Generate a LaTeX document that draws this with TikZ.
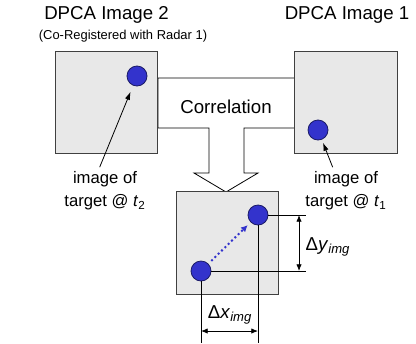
\documentclass[tikz,border=0pt]{standalone}
\usepackage{fontspec}
\setmainfont{Liberation Sans}
\usetikzlibrary{arrows.meta}

\definecolor{boxgray}{HTML}{E8E8E8}
\definecolor{boxline}{HTML}{404040}
\definecolor{dotblue}{HTML}{3333CC}
\definecolor{dotline}{HTML}{1A1A66}

\tikzset{
  imgbox/.style={draw=boxline,fill=boxgray,line width=0.6pt,minimum width=77pt,minimum height=77pt,inner sep=0pt},
  tgt/.style={circle,draw=dotline,fill=dotblue,line width=0.6pt,minimum size=15pt,inner sep=0pt},
  title/.style={font=\fontsize{14}{16}\selectfont},
  note/.style={font=\fontsize{12.5}{17}\selectfont,align=center},
  dimtext/.style={font=\fontsize{14}{16}\selectfont},
  dim/.style={line width=0.6pt},
  dimarrow/.style={line width=0.6pt,{Latex[length=5pt,width=4pt]}-{Latex[length=5pt,width=4pt]}},
  pointer/.style={line width=0.6pt,-{Latex[length=6pt,width=4pt]}},
}

\begin{document}
\begin{tikzpicture}[x=0.75pt,y=-0.75pt]
  \useasboundingbox (0,0) rectangle (416,343);

  % correlation block with its arrow down to the result
  \draw[line width=0.6pt,fill=white] (158,78) -- (295,78) -- (295,128) -- (244,128) -- (244,173)
    -- (258,173) -- (226,192) -- (194,173) -- (209,173) -- (209,128) -- (158,128) -- cycle;
  \node[title] (corr) at (226,107) {Correlation};

  % the two input images and the result
  \node[imgbox] (img2) at (106.5,102.5) {};
  \node[imgbox] (img1) at (346,102.5) {};
  \node[imgbox] (diff) at (227.5,243) {};

  \node[title] (t2) at (106.5,15) {DPCA Image 2};
  \node[title] (t1) at (347,15) {DPCA Image 1};
  \node[font=\fontsize{9.7}{11}\selectfont] (coreg) at (123,36) {(Co-Registered with Radar 1)};

  % target in each image
  \node[tgt] (p2) at (137,76) {};
  \node[tgt] (p1) at (318,130) {};

  \node[note] (lbl2) at (105,191) {image of\\target @ \textit{t}\textsubscript{2}};
  \node[note] (lbl1) at (346,191) {image of\\target @ \textit{t}\textsubscript{1}};
  \draw[pointer,shorten >=5pt] ([xshift=-4pt]lbl2.north) -- (p2);
  \draw[pointer,shorten >=2.5pt] ([xshift=-10pt]lbl1.north) -- (p1);

  % offset of the target between the two images
  \coordinate (edge) at (306,0);
  \coordinate (foot) at (0,343);
  \coordinate (dyx) at (299,0);
  \coordinate (dxy) at (0,331);
  \node[tgt] (pa) at (201,271) {};
  \node[tgt] (pb) at (258,215) {};

  \draw[dim] (pb) -- (pb -| edge);
  \draw[dim] (pa) -- (pa -| edge);
  \draw[dim] (pb) -- (pb |- foot);
  \draw[dim] (pa) -- (pa |- foot);
  \draw[dimarrow] (pb -| dyx) -- (pa -| dyx);
  \draw[dimarrow] (pa |- dxy) -- (pb |- dxy);
  \node[dimtext,anchor=west] (dy) at (301,247) {Δ\textit{y}\textsubscript{\textit{img}}};
  \node[dimtext] (dx) at (230,315) {Δ\textit{x}\textsubscript{\textit{img}}};

  \draw[dotblue,dotted,line width=1.5pt,-{Latex[length=5pt,width=5pt]},shorten <=3pt,shorten >=3pt] (pa) -- (pb);
\end{tikzpicture}
\end{document}
